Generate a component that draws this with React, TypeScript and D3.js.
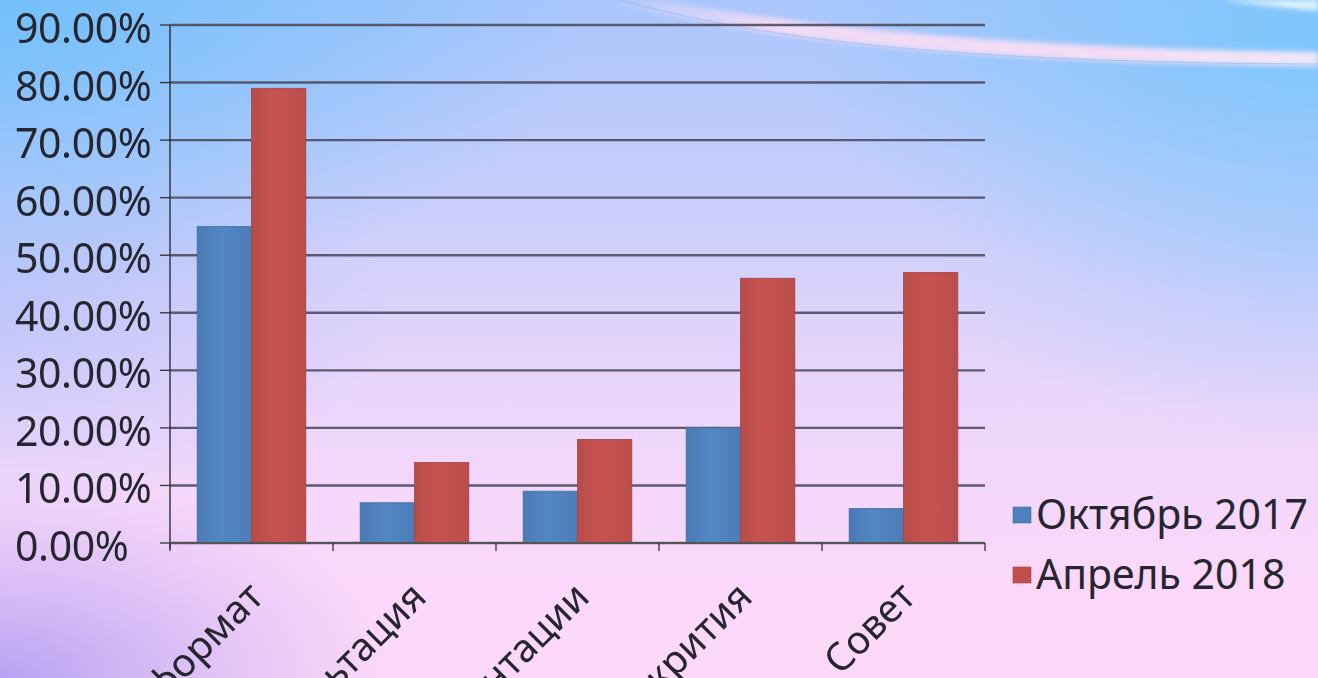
import React from "react";
import * as d3 from "d3";

const categories = ["Новый формат", "Консультация", "Презентации", "Открития", "Совет"];
const seriesNames = ["Октябрь 2017", "Апрель 2018"];
const october2017 = [0.55, 0.07, 0.09, 0.2, 0.06];
const april2018 = [0.79, 0.14, 0.18, 0.46, 0.47];
const yTicks = [0, 0.1, 0.2, 0.3, 0.4, 0.5, 0.6, 0.7, 0.8, 0.9];
const seriesColors = ["#4F81BD", "#C0504D"];

const W = 1318;
const H = 678;
const M = { left: 170, right: 985, top: 25, bottom: 543 };
const FONT = "'Noto Sans', 'Open Sans', sans-serif";
const TEXT = "#262630";

export default function App() {
  const x = d3
    .scaleBand<string>()
    .domain(categories)
    .range([M.left, M.right])
    .paddingInner(1 / 3)
    .paddingOuter(1 / 6);
  const xs = d3.scaleBand<number>().domain([0, 1]).range([0, x.bandwidth()]);
  const y = d3.scaleLinear().domain([0, 0.9]).range([M.bottom, M.top]);
  const fmt = d3.format(".2%");
  const series = [october2017, april2018];
  const step = x.step();
  const boundaries = d3.range(categories.length + 1).map((i) => M.left + i * step);

  return (
    <svg
      width={W}
      height={H}
      style={{ position: "absolute", left: 0, top: 0, display: "block" }}
      fontFamily={FONT}
    >
      <defs>
        <linearGradient id="bgv" x1="0" y1="0" x2="0" y2="1">
          <stop offset="0" stopColor="#a9c6fc" />
          <stop offset="0.35" stopColor="#cfd0fb" />
          <stop offset="0.6" stopColor="#ecd6fb" />
          <stop offset="0.85" stopColor="#fbd8fa" />
          <stop offset="1" stopColor="#fcd9f8" />
        </linearGradient>
        <radialGradient id="tl" cx="0" cy="0" r="0.45" gradientUnits="objectBoundingBox">
          <stop offset="0" stopColor="#72c0fb" stopOpacity="1" />
          <stop offset="1" stopColor="#72c0fb" stopOpacity="0" />
        </radialGradient>
        <radialGradient id="tr" cx="1" cy="0.05" r="0.4" gradientUnits="objectBoundingBox">
          <stop offset="0" stopColor="#7cc6fc" stopOpacity="1" />
          <stop offset="1" stopColor="#7cc6fc" stopOpacity="0" />
        </radialGradient>
        <radialGradient id="rm" cx="1" cy="0.35" r="0.3" gradientUnits="objectBoundingBox">
          <stop offset="0" stopColor="#b8ccfc" stopOpacity="0.9" />
          <stop offset="1" stopColor="#b8ccfc" stopOpacity="0" />
        </radialGradient>
        <radialGradient id="bl" cx="0" cy="1" r="0.3" gradientUnits="objectBoundingBox">
          <stop offset="0" stopColor="#b09cf2" stopOpacity="0.9" />
          <stop offset="1" stopColor="#c0a8f4" stopOpacity="0" />
        </radialGradient>
        <radialGradient id="lm" cx="0" cy="0.45" r="0.3" gradientUnits="objectBoundingBox">
          <stop offset="0" stopColor="#b4c0fa" stopOpacity="0.7" />
          <stop offset="1" stopColor="#b4c0fa" stopOpacity="0" />
        </radialGradient>
        <linearGradient id="swoosh" x1="0" y1="0" x2="1" y2="0">
          <stop offset="0" stopColor="#fbe0f4" stopOpacity="0" />
          <stop offset="0.25" stopColor="#f8dcf4" stopOpacity="0.9" />
          <stop offset="0.7" stopColor="#f9def4" stopOpacity="0.95" />
          <stop offset="1" stopColor="#fdeaf8" stopOpacity="0.9" />
        </linearGradient>
        <filter id="blur4" x="-10%" y="-50%" width="120%" height="200%">
          <feGaussianBlur stdDeviation="2.5" />
        </filter>
        <filter id="lineShadow" x="-5%" y="-200%" width="110%" height="500%">
          <feGaussianBlur stdDeviation="0.6" />
        </filter>
        {seriesColors.map((c, i) => (
          <linearGradient key={i} id={`bar${i}`} x1="0" y1="0" x2="1" y2="0">
            <stop offset="0" stopColor={d3.color(c)!.darker(0.15).toString()} />
            <stop offset="0.45" stopColor={d3.color(c)!.brighter(0.12).toString()} />
            <stop offset="1" stopColor={d3.color(c)!.darker(0.1).toString()} />
          </linearGradient>
        ))}
      </defs>

      {/* background */}
      <rect x={0} y={0} width={W} height={H} fill="url(#bgv)" />
      <rect x={0} y={0} width={W} height={H} fill="url(#lm)" />
      <rect x={0} y={0} width={W} height={H} fill="url(#rm)" />
      <rect x={0} y={0} width={W} height={H} fill="url(#tl)" />
      <rect x={0} y={0} width={W} height={H} fill="url(#tr)" />
      <rect x={0} y={0} width={W} height={H} fill="url(#bl)" />
      <path
        d="M600,0 C760,40 960,62 1318,66 L1318,52 C1000,48 800,26 660,0 Z"
        fill="url(#swoosh)"
        filter="url(#blur4)"
      />
      <path d="M620,0 C770,42 960,62 1318,64" fill="none" stroke="#8cb0ea" strokeWidth={1.2} opacity={0.45} />
      <path d="M1220,0 C1260,5 1300,9 1318,11 L1318,0 Z" fill="#ffffff" opacity={0.75} filter="url(#blur4)" />

      {/* gridlines */}
      <g filter="url(#lineShadow)">
        {yTicks.map((t) => (
          <line
            key={t}
            x1={M.left}
            x2={M.right}
            y1={y(t)}
            y2={y(t)}
            stroke="#4e4e60"
            strokeWidth={2.4}
            opacity={0.9}
          />
        ))}
      </g>

      {/* bars */}
      {categories.map((c, ci) => (
        <g key={c} transform={`translate(${x(c)},0)`}>
          {series.map((s, si) => (
            <rect
              key={si}
              x={xs(si)}
              y={y(s[ci])}
              width={xs.bandwidth()}
              height={y(0) - y(s[ci])}
              fill={`url(#bar${si})`}
              stroke={d3.color(seriesColors[si])!.darker(0.4).toString()}
              strokeWidth={0.8}
            />
          ))}
        </g>
      ))}

      {/* axes */}
      <line x1={M.left} x2={M.left} y1={M.top} y2={M.bottom + 6} stroke="#222" strokeWidth={1.3} />
      {yTicks.map((t) => (
        <line key={t} x1={M.left - 10} x2={M.left} y1={y(t)} y2={y(t)} stroke="#333" strokeWidth={1.3} />
      ))}
      <line x1={M.left} x2={M.right} y1={y(0)} y2={y(0)} stroke="#555" strokeWidth={2.2} />
      {boundaries.map((bx, i) => (
        <line key={i} x1={bx} x2={bx} y1={y(0)} y2={y(0) + 8} stroke="#333" strokeWidth={1.3} />
      ))}

      {/* y tick labels (left aligned) */}
      {yTicks.map((t) => (
        <text
          key={t}
          x={15}
          y={y(t) + 18}
          textAnchor="start"
          fontSize={41}
          fill={TEXT}
          letterSpacing={-0.4}
        >
          {fmt(t)}
        </text>
      ))}

      {/* x tick labels */}
      {categories.map((c) => {
        const cx = (x(c) as number) + x.bandwidth() / 2 + 14;
        const cy = y(0) + 56;
        return (
          <text
            key={c}
            transform={`translate(${cx},${cy}) rotate(-45)`}
            textAnchor="end"
            fontSize={39}
            fill={TEXT}
          >
            {c}
          </text>
        );
      })}

      {/* legend */}
      {seriesNames.map((n, i) => (
        <g key={n} transform={`translate(1013,${i * 60})`}>
          <rect x={0} y={507} width={18} height={16} fill={seriesColors[i]} stroke={d3.color(seriesColors[i])!.darker(0.4).toString()} strokeWidth={0.6} />
          <text x={23} y={529} fontSize={41} fill={TEXT}>
            {n}
          </text>
        </g>
      ))}
    </svg>
  );
}
